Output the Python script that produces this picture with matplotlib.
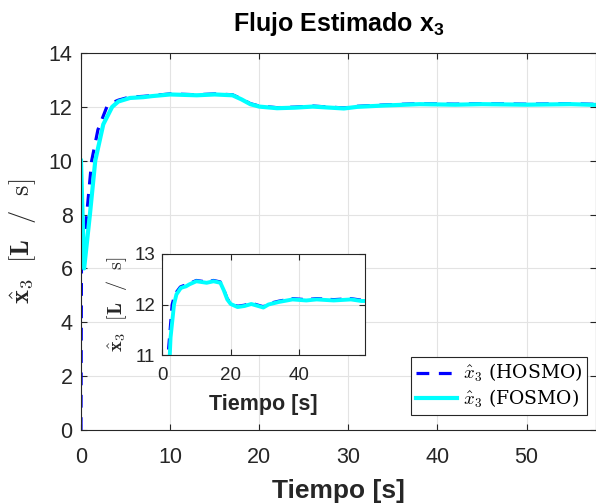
import matplotlib
matplotlib.use("Agg")
import matplotlib.pyplot as plt
from matplotlib.font_manager import FontProperties

plt.rcParams['font.family'] = ['Liberation Sans', 'DejaVu Sans']
plt.rcParams['mathtext.fontset'] = 'custom'
plt.rcParams['mathtext.rm'] = 'Liberation Sans'
plt.rcParams['mathtext.bf'] = 'Liberation Sans:bold'

# HOSMO estimate (dashed blue)
t_hosmo = [0, 0.05, 0.64, 1.2, 1.9, 2.9, 3.5, 4.2, 5.3, 6.0, 7.0, 8.0, 10.0, 12.0, 13.0,
           15.0, 17.0, 18.0, 19.0, 20.0, 22.0, 24.0, 26.0, 28.0, 29.5, 31.0, 34.0, 38.0, 42.0,
           45.0, 50.0, 55.0, 58.0, 60.0]
x3_hosmo = [0, 6.0, 8.0, 10.0, 11.15, 12.0, 12.15, 12.25, 12.35, 12.37, 12.39, 12.42,
            12.48, 12.46, 12.45, 12.48, 12.45, 12.3, 12.12, 12.03, 11.97, 11.99, 12.03, 11.99,
            11.96, 12.02, 12.07, 12.12, 12.1, 12.12, 12.1, 12.12, 12.09, 12.09]

# FOSMO estimate (solid cyan)
t_fosmo = [0, 0.35, 1.0, 1.6, 2.5, 3.5, 4.2, 5.5, 6.0, 7.0, 8.0, 10.0, 12.0, 13.0,
           15.0, 17.0, 18.0, 19.0, 20.0, 22.0, 24.0, 26.0, 28.0, 29.5, 31.0, 34.0, 38.0, 42.0,
           45.0, 50.0, 55.0, 58.0, 60.0]
x3_fosmo = [10.0, 6.0, 8.0, 10.0, 11.35, 12.0, 12.2, 12.33, 12.34, 12.36, 12.4,
            12.46, 12.44, 12.43, 12.46, 12.43, 12.28, 12.1, 12.01, 11.95, 11.97, 12.01, 11.97,
            11.94, 12.0, 12.05, 12.1, 12.08, 12.1, 12.08, 12.1, 12.07, 12.07]

xticks = [0, 10, 20, 30, 40, 50]
yticks = [0, 2, 4, 6, 8, 10, 12, 14]
inset_xticks = [0, 20, 40]
inset_yticks = [11, 12, 13]

W, H = 596, 504
fig = plt.figure(figsize=(W / 100, H / 100), dpi=100)

axcol = '#262626'
gridcol = '#e3e3e3'
ylab = r'$\hat{\mathbf{x}}_3\ \ [\mathbf{L}\ \ /\ \ \mathrm{s}]$'

def style(ax, fs, xpad, ypad):
    ax.grid(True, color=gridcol, linewidth=0.8)
    ax.set_axisbelow(True)
    for s in ax.spines.values():
        s.set_color(axcol)
        s.set_linewidth(0.8)
    ax.tick_params(direction='in', colors=axcol, labelsize=fs, length=4, width=0.8,
                   top=True, right=True)
    ax.tick_params(axis='x', pad=xpad)
    ax.tick_params(axis='y', pad=ypad)

ax = fig.add_axes([81 / W, 1 - 430 / H, (W - 81) / W, (430 - 53) / H])
style(ax, 15.5, 12, 6)
ax.plot(t_hosmo, x3_hosmo, color='#0000ff', lw=2.3, dashes=(4, 3), label=r'$\hat{x}_3$ (HOSMO)')
ax.plot(t_fosmo, x3_fosmo, color='#00ffff', lw=3.0, label=r'$\hat{x}_3$ (FOSMO)')
ax.set_xlim(0, 57.8)
ax.set_ylim(0, 14)
ax.set_xticks(xticks)
ax.set_yticks(yticks)
ax.set_xlabel('Tiempo [s]', fontsize=19, fontweight='bold', color=axcol, labelpad=8)
ax.set_ylabel(ylab, fontsize=19, color=axcol, math_fontfamily='cm', labelpad=8)
ax.set_title(r'Flujo Estimado x$_{\mathbf{3}}$', fontsize=18, fontweight='bold', pad=16)

leg = ax.legend(loc='lower right', bbox_to_anchor=((587 - 81) / (W - 81), 0.04),
                borderaxespad=0, fancybox=False, edgecolor=axcol, framealpha=1,
                prop=FontProperties(size=13.5, math_fontfamily='cm', family='DejaVu Serif'),
                handlelength=2.2, handletextpad=0.3, borderpad=0.25, labelspacing=0.2)
leg.get_frame().set_linewidth(0.8)

# inset
ai = fig.add_axes([162 / W, 1 - 355 / H, (365 - 162) / W, (355 - 254) / H])
style(ai, 13.5, 9, 5)
ai.plot(t_hosmo, x3_hosmo, color='#0000ff', lw=2.0, dashes=(4, 3))
ai.plot(t_fosmo, x3_fosmo, color='#00ffff', lw=2.8)
ai.set_xlim(0, 59.1)
ai.set_ylim(11, 13)
ai.set_xticks(inset_xticks)
ai.set_yticks(inset_yticks)
ai.set_xlabel('Tiempo [s]', fontsize=15.5, fontweight='bold', color=axcol, labelpad=7)
ai.set_ylabel(ylab, fontsize=14.5, color=axcol, math_fontfamily='cm', labelpad=4)

fig.savefig('out.png', dpi=100)
